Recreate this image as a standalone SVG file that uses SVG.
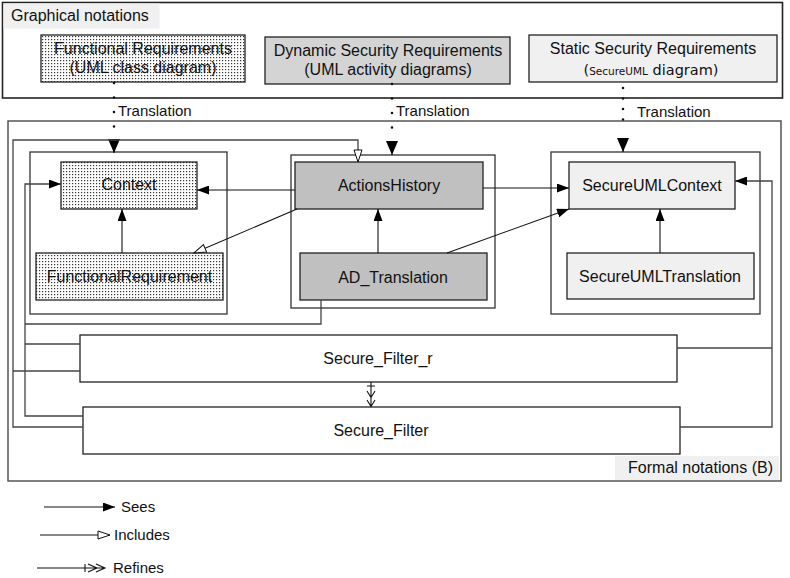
<svg xmlns="http://www.w3.org/2000/svg" width="790" height="578" viewBox="0 0 790 578">
<style>
text{font-family:"Liberation Sans",Arial,sans-serif;fill:#111;font-size:16px}
.c{text-anchor:middle}
.s15{font-size:15px}
.box{stroke:#222;stroke-width:1.3}
.grp{fill:none;stroke:#333;stroke-width:1.3}
.ln{fill:none;stroke:#444;stroke-width:1.3}
.ar{fill:none;stroke:#111;stroke-width:1.1}
.dot{fill:none;stroke:#111;stroke-width:2.6;stroke-linecap:round}
.lbl{fill:#f0f0f0}
</style>
<defs>
<pattern id="dots" width="3" height="3" patternUnits="userSpaceOnUse"><rect width="3" height="3" fill="#fff"/><rect width="1.2" height="1.2" fill="#333"/></pattern>
<marker id="sees" markerUnits="userSpaceOnUse" markerWidth="13" markerHeight="9" refX="12" refY="4.5" orient="auto"><path d="M0,0 L12,4.5 L0,9 z" fill="#000"/></marker>
<marker id="trans" markerUnits="userSpaceOnUse" markerWidth="15" markerHeight="12" refX="14" refY="6" orient="auto"><path d="M0,0 L14,6 L0,12 z" fill="#000"/></marker>
<marker id="inc" markerUnits="userSpaceOnUse" markerWidth="14" markerHeight="10" refX="13" refY="5" orient="auto"><path d="M1,1 L13,5 L1,9 z" fill="#fff" stroke="#111" stroke-width="1"/></marker>
</defs>

<g id="graphical-notations">
<rect x="2.5" y="2.5" width="780" height="95.5" fill="none" stroke="#222" stroke-width="1.6"/>
<rect class="lbl" x="3.5" y="3.5" width="156" height="25"/>
<text x="11" y="21">Graphical notations</text>
</g>

<g id="functional-requirements">
<rect class="box" x="41" y="35" width="204" height="47" fill="url(#dots)"/>
<text class="c" x="143" y="54">Functional Requirements</text>
<text class="c" x="143" y="73">(UML class diagram)</text>
</g>

<g id="dynamic-security-requirements">
<rect class="box" x="265" y="37" width="245" height="47" fill="#d4d4d4"/>
<text class="c" x="388" y="56">Dynamic Security Requirements</text>
<text class="c" x="388" y="75">(UML activity diagrams)</text>
</g>

<g id="static-security-requirements">
<rect class="box" x="529" y="35" width="248" height="47" fill="#f0f0f0"/>
<text class="c" x="653" y="54">Static Security Requirements</text>
<text class="c" x="651" y="75" style="font-family:'DejaVu Sans',Verdana,sans-serif;font-size:14.5px">(<tspan style="font-size:10.5px">SecureUML</tspan> diagram)</text>
</g>

<g id="formal-notations">
<rect x="8" y="121" width="773" height="360" fill="none" stroke="#555" stroke-width="1.5"/>
<rect class="lbl" x="615" y="456" width="164" height="24"/>
<text x="773" y="473" style="text-anchor:end">Formal notations (B)</text>
</g>

<g id="context-machine">
<rect class="grp" x="30" y="152" width="197" height="162"/>
</g>
<g id="context">
<rect class="box" x="61" y="162" width="136" height="47" fill="url(#dots)"/>
<text class="c" x="129" y="190">Context</text>
</g>
<g id="functional-requirement">
<rect class="box" x="36" y="253" width="187" height="47" fill="url(#dots)"/>
<text class="c" x="129.5" y="282">FunctionalRequirement</text>
</g>

<g id="actions-machine">
<rect class="grp" x="291" y="155" width="204" height="153"/>
</g>
<g id="actions-history">
<rect class="box" x="295" y="162" width="188" height="47" fill="#c0c0c0"/>
<text class="c" x="389" y="191">ActionsHistory</text>
</g>
<g id="ad-translation">
<rect class="box" x="300" y="253" width="187" height="47" fill="#c0c0c0"/>
<text class="c" x="393" y="283">AD_Translation</text>
</g>

<g id="secureuml-machine">
<rect class="grp" x="551" y="152" width="209" height="162"/>
</g>
<g id="secureuml-context">
<rect class="box" x="569" y="162" width="166" height="47" fill="#f0f0f0"/>
<text class="c" x="652" y="191">SecureUMLContext</text>
</g>
<g id="secureuml-translation">
<rect class="box" x="567" y="253" width="187" height="46" fill="#f0f0f0"/>
<text class="c" x="660" y="282">SecureUMLTranslation</text>
</g>

<g id="secure-filter-r">
<rect class="box" x="80" y="335" width="597" height="47" fill="#fff"/>
<text class="c" x="378" y="364">Secure_Filter_r</text>
</g>
<g id="secure-filter">
<rect class="box" x="83" y="407" width="597" height="47" fill="#fff"/>
<text class="c" x="381" y="436">Secure_Filter</text>
</g>

<g id="connectors">
<!-- translations -->
<path class="dot" d="M114,83 V134" stroke-dasharray="0 14.5"/>
<path class="ar" d="M114,139 V153" marker-end="url(#trans)"/>
<text class="s15" x="118" y="116">Translation</text>
<path class="dot" d="M392,84 V134" stroke-dasharray="0 14.5"/>
<path class="ar" d="M392,141 V155" marker-end="url(#trans)"/>
<text class="s15" x="396" y="116">Translation</text>
<path class="dot" d="M623,88 V130" stroke-dasharray="0 10.5"/>
<path class="ar" d="M623,138 V152" marker-end="url(#trans)"/>
<text class="s15" x="637" y="117">Translation</text>

<!-- includes from filters to ActionsHistory -->
<path class="ln" d="M83,427 H13 V140 H358 V162" marker-end="url(#inc)"/>
<path class="ln" d="M80,371 H13"/>
<!-- sees Context from filters and AD_Translation -->
<path class="ln" d="M83,416 H25 V184 H61" marker-end="url(#sees)"/>
<path class="ln" d="M80,344 H25"/>
<path class="ln" d="M321,300 V324 H25"/>
<!-- sees SecureUMLContext from filters -->
<path class="ln" d="M680,427 H772 V181 H735" marker-end="url(#sees)"/>
<path class="ln" d="M677,348 H772"/>

<!-- inner -->
<path class="ar" d="M295,190 H197" marker-end="url(#sees)"/>
<path class="ar" d="M297,209 L194,253" marker-end="url(#inc)"/>
<path class="ar" d="M122,253 V209" marker-end="url(#sees)"/>
<path class="ar" d="M378,253 V209" marker-end="url(#sees)"/>
<path class="ar" d="M483,188 H569" marker-end="url(#sees)"/>
<path class="ar" d="M447,253 L569,209" marker-end="url(#sees)"/>
<path class="ar" d="M660,253 V209" marker-end="url(#sees)"/>

<!-- refines -->
<path class="ar" d="M371,382 V407 M367,386 H375 M367,391 L371,397.5 L375,391 M367,400 L371,406.5 L375,400"/>
</g>

<g id="legend">
<path class="ar" d="M44,507 H115" marker-end="url(#sees)"/>
<text class="s15" x="121" y="512">Sees</text>
<path class="ar" d="M40,535 H110" marker-end="url(#inc)"/>
<text class="s15" x="114" y="540">Includes</text>
<path class="ar" d="M37,568 H105 M85,564 V572 M88,564 L97,568 L88,572 M96,564 L105,568 L96,572"/>
<text class="s15" x="113" y="573">Refines</text>
</g>
</svg>
